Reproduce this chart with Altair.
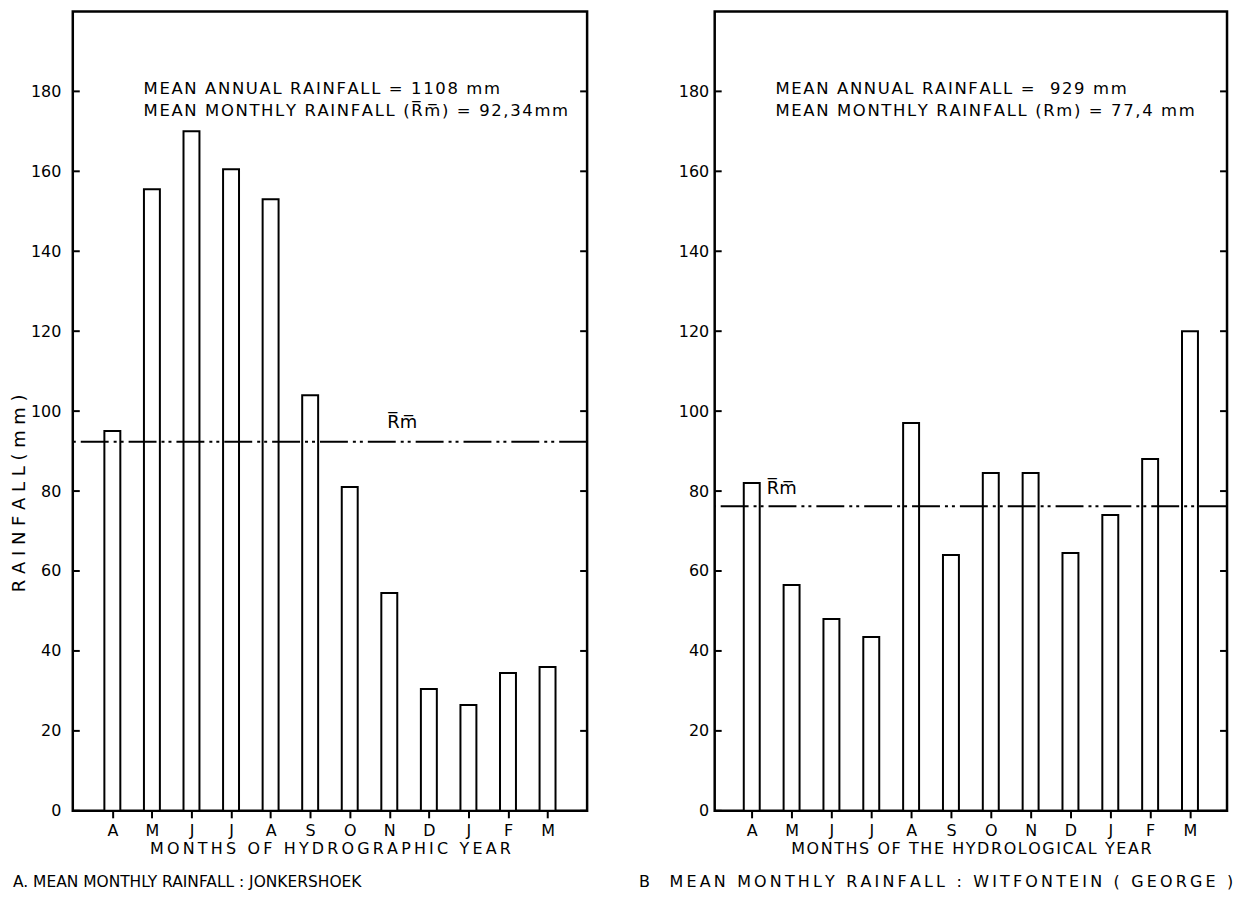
import unicodedata
import altair as alt
import pandas as pd

months = ["A", "M", "J", "J", "A", "S", "O", "N", "D", "J", "F", "M"]
jonkershoek = [95, 155.5, 170, 160.5, 153, 104, 81, 54.5, 30.5, 26.5, 34.5, 36]
witfontein = [82, 56.5, 48, 43.5, 97, 64, 84.5, 84.5, 64.5, 74, 88, 120]
y_ticks = [0, 20, 40, 60, 80, 100, 120, 140, 160, 180]
rm_jonk = 92.34
rm_witf = 76.2

FONT = "DejaVu Sans"
H = 802
HAIR = "\u200a"
THIN = "\u2009"
label_expr = "[" + ",".join("'%s'" % m for m in months) + "][datum.value]"


def spaced(s, sep):
    out = ""
    for i, ch in enumerate(s):
        if i > 0 and not unicodedata.combining(ch):
            out += sep
        out += ch
    return out


def panel(values, rm, width, pad, xtitle, ytitle, ylabpad, annots, annot_x,
          rm_label_idx, rm_label_val, rm_dx, caption, cap_x, cap_size):
    df = pd.DataFrame({"idx": list(range(12)), "value": values})
    xscale = alt.Scale(type="point", domain=list(range(12)), padding=pad)
    xenc = alt.X("idx:O", scale=xscale,
                 axis=alt.Axis(title=xtitle, labelExpr=label_expr, labelAngle=0,
                               tickSize=7, tickWidth=2, tickColor="black",
                               domain=False, labelPadding=5, titlePadding=2,
                               labelFontSize=16, titleFontSize=16))
    yaxis_kw = dict(values=y_ticks, ticks=False, domain=False, grid=False,
                    labelPadding=ylabpad, labelFontSize=16)
    if ytitle:
        yaxis_kw.update(title=ytitle, titleX=-53, titleY=483, titleAngle=-90,
                        titleAlign="center", titleBaseline="middle",
                        titleFontSize=18)
    else:
        yaxis_kw.update(title=None)
    yenc = alt.Y("value:Q", scale=alt.Scale(domain=[0, 200], nice=False),
                 axis=alt.Axis(**yaxis_kw))

    bars = alt.Chart(df).mark_bar(size=16, fill="white", stroke="black",
                                  strokeWidth=2).encode(x=xenc, y=yenc)

    tick_df = pd.DataFrame({"value": y_ticks})
    lticks = alt.Chart(tick_df).mark_rule(stroke="black", strokeWidth=2).encode(
        y="value:Q", x=alt.value(0), x2=alt.value(7))
    rticks = alt.Chart(tick_df).mark_rule(stroke="black", strokeWidth=2).encode(
        y="value:Q", x=alt.value(width - 7), x2=alt.value(width))

    rule = alt.Chart(pd.DataFrame({"value": [rm]})).mark_rule(
        stroke="black", strokeWidth=2, strokeDash=[28, 5, 3, 4, 3, 5]
    ).encode(y="value:Q")

    rmtxt = alt.Chart(pd.DataFrame({"idx": [rm_label_idx], "value": [rm_label_val],
                                    "t": ["R\u0305m\u0305"]})).mark_text(
        dx=rm_dx, fontSize=18, font=FONT, color="black").encode(
        x="idx:O", y="value:Q", text="t:N")

    ann = alt.Chart(pd.DataFrame({"t": [spaced(a, HAIR) for a in annots],
                                  "value": [180.5, 175]})).mark_text(
        align="left", baseline="middle", fontSize=16.5, font=FONT, color="black"
    ).encode(x=alt.value(annot_x), y="value:Q", text="t:N")

    cap = alt.Chart(pd.DataFrame({"t": [caption]})).mark_text(
        align="left", baseline="middle", fontSize=cap_size, font=FONT, color="black"
    ).encode(x=alt.value(cap_x), y=alt.value(H + 71), text="t:N")

    return alt.layer(bars, lticks, rticks, rule, rmtxt, ann, cap).properties(
        width=width, height=H)


left = panel(jonkershoek, rm_jonk, 516, 1.0,
             spaced("MONTHS OF HYDROGRAPHIC YEAR", THIN),
             "R A I N F A L L    ( m m )", 12,
             ["MEAN ANNUAL RAINFALL = 1108 mm",
              "MEAN MONTHLY RAINFALL (R\u0305m\u0305) = 92,34mm"], 71,
             7, 97, 13, "A. MEAN MONTHLY RAINFALL : JONKERSHOEK", -60, 15.5)

right = panel(witfontein, rm_witf, 514, 0.93,
              spaced("MONTHS OF THE HYDROLOGICAL YEAR", HAIR),
              None, 6,
              ["MEAN ANNUAL RAINFALL =  929 mm",
               "MEAN MONTHLY RAINFALL (Rm) = 77,4 mm"], 61,
              0, 80.5, 30,
              spaced("B  MEAN MONTHLY RAINFALL : WITFONTEIN ( GEORGE )", THIN),
              -76, 16)

chart = alt.hconcat(left, right, spacing=47).properties(
    padding={"left": 1, "top": 0, "right": 0, "bottom": 0},
    background="white",
).configure_view(stroke="black", strokeWidth=2.5).configure_axis(
    labelColor="black", titleColor="black", labelFont=FONT, titleFont=FONT,
    titleFontWeight="normal"
)

chart.save("out.html", embed_options={"renderer": "svg", "actions": False})
